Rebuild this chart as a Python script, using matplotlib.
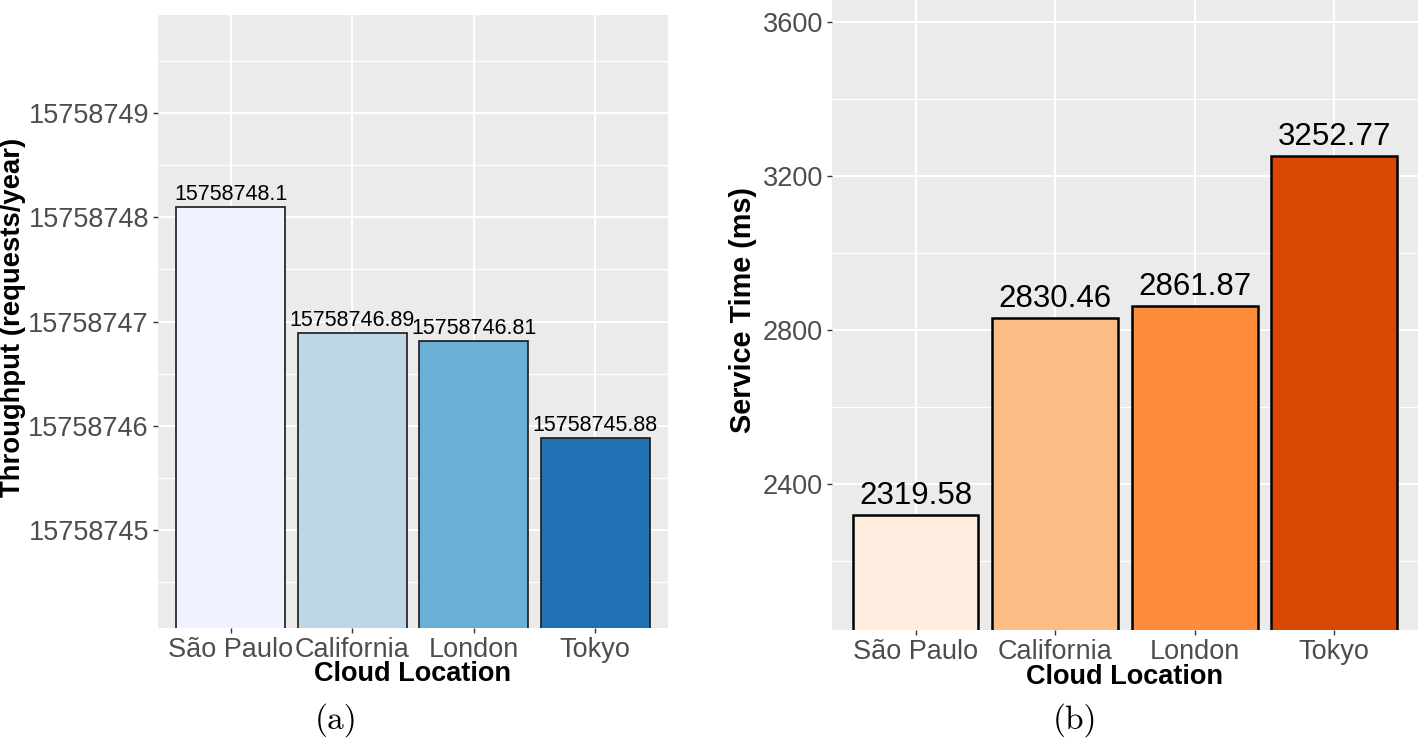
import matplotlib.pyplot as plt
from matplotlib.ticker import FormatStrFormatter, FixedLocator

plt.rcParams['font.family'] = ['Liberation Sans', 'DejaVu Sans']

locations = ['São Paulo', 'California', 'London', 'Tokyo']
throughput = [15758748.1, 15758746.89, 15758746.81, 15758745.88]
service_time = [2319.58, 2830.46, 2861.87, 3252.77]

blues = ['#EFF3FF', '#BDD7E7', '#6BAED6', '#2171B5']
oranges = ['#FEEDDE', '#FDBE85', '#FD8D3C', '#D94701']

thr_ticks = [15758745, 15758746, 15758747, 15758748, 15758749]
thr_minor = [15758744.5, 15758745.5, 15758746.5, 15758747.5, 15758748.5, 15758749.5]
svc_ticks = [2400, 2800, 3200, 3600]
svc_minor = [2200, 2600, 3000, 3400]


def gg_axes(ax, major, minor, ylim):
    ax.set_facecolor('#EBEBEB')
    for s in ax.spines.values():
        s.set_visible(False)
    ax.set_xlim(0.4, 4.6)
    ax.set_ylim(*ylim)
    ax.set_yticks(major)
    ax.yaxis.set_minor_locator(FixedLocator(minor))
    ax.yaxis.set_major_formatter(FormatStrFormatter('%d'))
    ax.set_xticks([1, 2, 3, 4])
    ax.set_xticklabels(locations)
    ax.grid(True, which='major', color='white', linewidth=1.5)
    ax.grid(True, which='minor', axis='y', color='white', linewidth=0.8)
    ax.set_axisbelow(True)
    ax.tick_params(which='major', length=3.5, width=1, color='#333333',
                   labelcolor='#4D4D4D', labelsize=19.5, pad=3)
    ax.tick_params(which='minor', length=0)


fig = plt.figure(figsize=(14.18, 7.42), dpi=100)

# (a) throughput
ax1 = fig.add_axes([0.1114, 0.1536, 0.3597, 0.8262])
gg_axes(ax1, thr_ticks, thr_minor, (15758744.06, 15758749.94))
x = [1, 2, 3, 4]
ax1.bar(x, throughput, width=0.9, color=blues, edgecolor='#1a1a1a', linewidth=1.2)
for xi, v in zip(x, throughput):
    ax1.text(xi, v + 0.02, str(v), ha='center', va='bottom', fontsize=15.5, color='black')
ax1.set_ylabel('Throughput (requests/year)', fontsize=19.8, fontweight='bold')
ax1.yaxis.set_label_coords(-0.258, 0.507)
ax1.set_xlabel('Cloud Location', fontsize=19.5, fontweight='bold')
ax1.xaxis.label.set_va('center')
ax1.xaxis.set_label_coords(0.5, -0.075)

# (b) service time
ax2 = fig.add_axes([0.5867, 0.151, 0.4133, 0.849])
gg_axes(ax2, svc_ticks, svc_minor, (2020, 3657))
ax2.bar(x, service_time, width=0.9, color=oranges, edgecolor='black', linewidth=1.8)
for xi, v in zip(x, service_time):
    ax2.text(xi, v + 10, str(v), ha='center', va='bottom', fontsize=22.5, color='black')
ax2.set_ylabel('Service Time (ms)', fontsize=20.8, fontweight='bold')
ax2.yaxis.set_label_coords(-0.128, 0.508)
ax2.set_xlabel('Cloud Location', fontsize=19.5, fontweight='bold')
ax2.xaxis.label.set_va('center')
ax2.xaxis.set_label_coords(0.5, -0.075)

fig.text(336 / 1418, 1 - 720 / 742, '(a)', family='cmr10', fontsize=24, ha='center', va='center')
fig.text(1075 / 1418, 1 - 720 / 742, '(b)', family='cmr10', fontsize=24, ha='center', va='center')

fig.savefig('out.png', dpi=100)
